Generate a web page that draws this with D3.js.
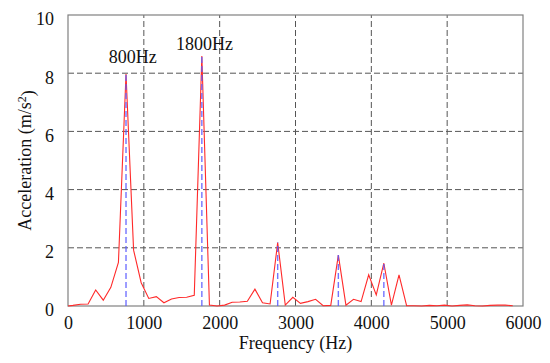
<!DOCTYPE html>
<html>
<head>
<meta charset="utf-8">
<script src="https://cdn.jsdelivr.net/npm/d3@7"></script>
<style>
  body { margin: 0; background: #fff; }
  svg text { font-family: "Liberation Serif", "Times New Roman", Times, "DejaVu Serif", serif !important; }
</style>
</head>
<body>
<svg id="chart"></svg>
<script>
// spectrum samples (Hz) and amplitudes (m/s^2)
const freqs = [0, 65, 165, 265, 365, 465, 565, 665, 765, 865, 965, 1065, 1165, 1265, 1365,
  1465, 1565, 1665, 1765, 1865, 1965, 2065, 2165, 2265, 2365, 2465, 2565, 2665, 2765, 2865,
  2965, 3065, 3165, 3265, 3365, 3465, 3565, 3665, 3765, 3865, 3965, 4065, 4165, 4265, 4365,
  4465, 4565, 4665, 4765, 4865, 4965, 5065, 5165, 5265, 5365, 5465, 5565, 5665, 5765, 5865];
const accel = [0, 0.02, 0.06, 0.07, 0.55, 0.2, 0.64, 1.5, 7.97, 1.92, 0.8, 0.26, 0.32, 0.11, 0.24,
  0.29, 0.3, 0.37, 8.59, 0.03, 0, 0.03, 0.13, 0.14, 0.16, 0.58, 0.11, 0.07, 2.18, 0.03,
  0.3, 0.09, 0.15, 0.23, 0.01, 0.02, 1.75, 0.03, 0.23, 0.15, 1.07, 0.38, 1.47, 0.03, 1.07,
  0.01, 0.01, 0, 0.02, 0.01, 0.03, 0, 0.02, 0.04, 0.01, 0, 0.02, 0.03, 0.03, 0.01];

// peaks marked with blue dashed stems
const peakFreqs = [765, 1765, 2765, 3565, 4165];
const peakVals = [7.97, 8.59, 2.18, 1.75, 1.47];

const labels = ['800Hz', '1800Hz'];
const labelFreqs = [855, 1800];
const labelVals = [8.35, 8.8];

const xTicks = [0, 1000, 2000, 3000, 4000, 5000, 6000];
const yTicks = [0, 2, 4, 6, 8, 10];

const width = 550;
const height = 363;
const margin = { left: 68, right: 27, top: 15, bottom: 57 };
const serif = '"Liberation Serif", "Times New Roman", Times, "DejaVu Serif", serif';

const svg = d3.select('#chart')
  .attr('width', width)
  .attr('height', height)
  .attr('font-family', serif);

const x = d3.scaleLinear().domain([0, 6000]).range([margin.left, width - margin.right]);
const y = d3.scaleLinear().domain([0, 10]).range([height - margin.bottom, margin.top]);

// grid
svg.append('g').selectAll('line')
  .data(xTicks.slice(1, -1))
  .enter().append('line')
  .attr('x1', d => x(d)).attr('x2', d => x(d))
  .attr('y1', y(0)).attr('y2', y(10))
  .attr('stroke', '#555')
  .attr('stroke-dasharray', '6,3');

svg.append('g').selectAll('line')
  .data(yTicks.slice(1, -1))
  .enter().append('line')
  .attr('x1', x(0)).attr('x2', x(6000))
  .attr('y1', d => y(d)).attr('y2', d => y(d))
  .attr('stroke', '#555')
  .attr('stroke-dasharray', '6,3');

// frame
svg.append('rect')
  .attr('x', x(0)).attr('y', y(10))
  .attr('width', x(6000) - x(0)).attr('height', y(0) - y(10))
  .attr('fill', 'none')
  .attr('stroke', '#808080')
  .attr('stroke-width', 1.2);

// spectrum line
const line = d3.line()
  .x((d, i) => x(freqs[i]))
  .y(d => y(d));

svg.append('path')
  .datum(accel)
  .attr('d', line)
  .attr('fill', 'none')
  .attr('stroke', '#ff2a2a')
  .attr('stroke-width', 1.1);

// peak stems
svg.append('g').selectAll('line')
  .data(peakFreqs)
  .enter().append('line')
  .attr('x1', d => x(d)).attr('x2', d => x(d))
  .attr('y1', y(0))
  .attr('y2', (d, i) => y(peakVals[i]))
  .attr('stroke', '#5b5bff')
  .attr('stroke-opacity', 0.85)
  .attr('stroke-width', 1.4)
  .attr('stroke-dasharray', '6,3');

// axes
const xAxis = d3.axisBottom(x).tickValues(xTicks).tickFormat(d3.format('d'))
  .tickSize(0).tickPadding(10);
const xg = svg.append('g')
  .attr('transform', 'translate(0,' + y(0) + ')')
  .call(xAxis)
  .attr('font-family', serif);
xg.select('.domain').remove();
xg.selectAll('text').style('font-size', '18px').attr('fill', '#111');

const yAxis = d3.axisLeft(y).tickValues(yTicks).tickSize(0).tickPadding(14);
const yg = svg.append('g')
  .attr('transform', 'translate(' + x(0) + ',0)')
  .call(yAxis)
  .attr('font-family', serif);
yg.select('.domain').remove();
yg.selectAll('text').style('font-size', '18px').attr('fill', '#111')
  .attr('dy', '0.55em');

// axis titles
svg.append('text')
  .attr('x', (x(0) + x(6000)) / 2)
  .attr('y', 349)
  .attr('text-anchor', 'middle')
  .style('font-size', '18px')
  .attr('fill', '#111')
  .text('Frequency (Hz)');

const yTitle = svg.append('text')
  .attr('transform', 'translate(31,' + ((y(0) + y(10)) / 2) + ') rotate(-90)')
  .attr('text-anchor', 'middle')
  .style('font-size', '18px')
  .attr('fill', '#111');
yTitle.append('tspan').text('Acceleration (m/s');
yTitle.append('tspan').attr('dy', '-0.45em').style('font-size', '12px').text('2');
yTitle.append('tspan').attr('dy', '0.45em').text(')');

// peak labels
svg.append('g').selectAll('text')
  .data(labels)
  .enter().append('text')
  .attr('x', (d, i) => x(labelFreqs[i]))
  .attr('y', (d, i) => y(labelVals[i]))
  .attr('text-anchor', 'middle')
  .style('font-size', '18px')
  .attr('fill', '#111')
  .text(d => d);
</script>
</body>
</html>
